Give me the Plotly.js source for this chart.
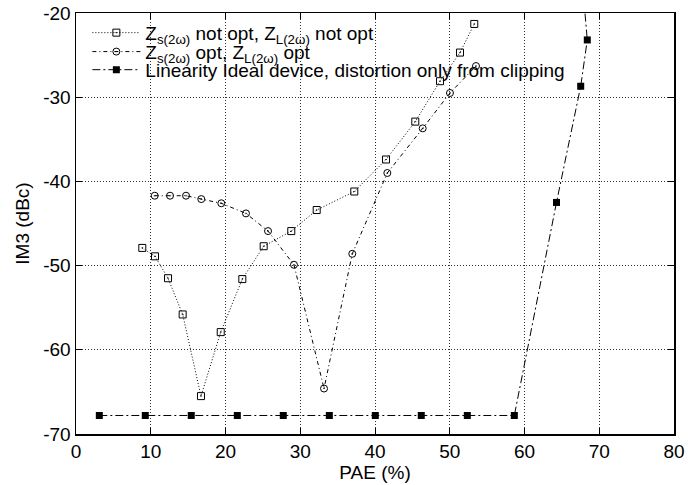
<!DOCTYPE html>
<html>
<head>
<meta charset="utf-8">
<script src="https://cdn.plot.ly/plotly-3.0.1.min.js"></script>
<style>html,body{margin:0;padding:0;background:#fff}#chart{width:690px;height:485px}</style>
</head>
<body>
<div id="chart"></div>
<script>
// Series 1: Zs(2w) not opt, ZL(2w) not opt
const paeNotOpt = [8.87, 10.57, 12.31, 14.27, 16.72, 19.36, 22.25, 25.11, 28.80, 32.20, 37.23, 41.47, 45.39, 48.70, 51.37, 53.28];
const im3NotOpt = [-47.9, -48.9, -51.5, -55.8, -65.5, -57.9, -51.6, -47.7, -45.9, -43.4, -41.2, -37.4, -32.9, -28.1, -24.7, -21.3];
// Series 2: Zs(2w) opt, ZL(2w) opt
const paeOpt = [10.53, 12.58, 14.72, 16.76, 19.44, 22.74, 25.69, 29.16, 33.18, 36.96, 41.65, 46.38, 50.03, 53.51];
const im3Opt = [-41.7, -41.7, -41.7, -42.1, -42.6, -43.8, -45.9, -49.9, -64.6, -48.6, -39.0, -33.7, -29.5, -26.3];
// Series 3: Linearity ideal device
const paeIdeal = [3.12, 9.27, 15.42, 21.58, 27.73, 33.89, 40.04, 46.19, 52.35, 58.64, 64.28, 67.52, 68.40, 67.6];
const im3Ideal = [-67.8, -67.8, -67.8, -67.8, -67.8, -67.8, -67.8, -67.8, -67.8, -67.8, -42.5, -28.7, -23.2, -15];

const names = [
  'Z<sub>s(2ω)</sub> not opt, Z<sub>L(2ω)</sub> not opt',
  'Z<sub>s(2ω)</sub> opt, Z<sub>L(2ω)</sub> opt',
  'Linearity Ideal device, distortion only from clipping'
];
const xTicks = [0, 10, 20, 30, 40, 50, 60, 70, 80];
const yTicks = [-70, -60, -50, -40, -30, -20];

const FONT = '"Liberation Sans", Arial, Helvetica, sans-serif';

const traces = [
  {x: paeNotOpt, y: im3NotOpt, name: names[0], mode: 'lines+markers', legend: 'legend',
   line: {color: '#000', width: 1, dash: '1px,2px'},
   marker: {symbol: 'square-open-dot', size: 7, color: '#000', line: {width: 1, color: '#000'}}},
  {x: paeOpt, y: im3Opt, name: names[1], mode: 'lines+markers', legend: 'legend2',
   line: {color: '#000', width: 1, dash: '4px,3px,1px,3px'},
   marker: {symbol: 'circle-open-dot', size: 7, color: '#000', line: {width: 1, color: '#000'}}},
  {x: paeIdeal, y: im3Ideal, name: names[2], mode: 'lines+markers', legend: 'legend3',
   line: {color: '#000', width: 1, dash: '8px,3px,2px,3px'},
   marker: {symbol: 'square', size: 7, color: '#000'}}
];

const axisCommon = {
  showline: true, linecolor: '#000', linewidth: 1.5, mirror: 'ticks',
  ticks: 'inside', ticklen: 6, tickcolor: '#000', tickwidth: 1,
  showgrid: true, gridcolor: '#333', gridwidth: 1, griddash: '1px,2px',
  zeroline: false, tickfont: {family: FONT, size: 19, color: '#000'}
};

function legendAt(y) {
  return {x: 0.019, y: y, xanchor: 'left', yanchor: 'middle', itemwidth: 48,
    bgcolor: 'rgba(0,0,0,0)', borderwidth: 0,
    font: {family: FONT, size: 19, color: '#000'}};
}

const layout = {
  width: 690, height: 485,
  margin: {l: 76, r: 16, t: 13, b: 51},
  paper_bgcolor: '#fff', plot_bgcolor: '#fff',
  font: {family: FONT, color: '#000'},
  showlegend: true,
  legend: legendAt(0.953),
  legend2: legendAt(0.908),
  legend3: legendAt(0.865),
  xaxis: Object.assign({}, axisCommon, {range: [0, 80], tickvals: xTicks, ticktext: xTicks.map(String),
    title: {text: 'PAE (%)', font: {family: FONT, size: 19, color: '#000'}, standoff: 0}}),
  yaxis: Object.assign({}, axisCommon, {range: [-70, -20], tickvals: yTicks, ticktext: yTicks.map(String),
    title: {text: 'IM3 (dBc)', font: {family: FONT, size: 19, color: '#000'}, standoff: 8}})
};

Plotly.newPlot('chart', traces, layout, {displayModeBar: false, staticPlot: true});
</script>
</body>
</html>
